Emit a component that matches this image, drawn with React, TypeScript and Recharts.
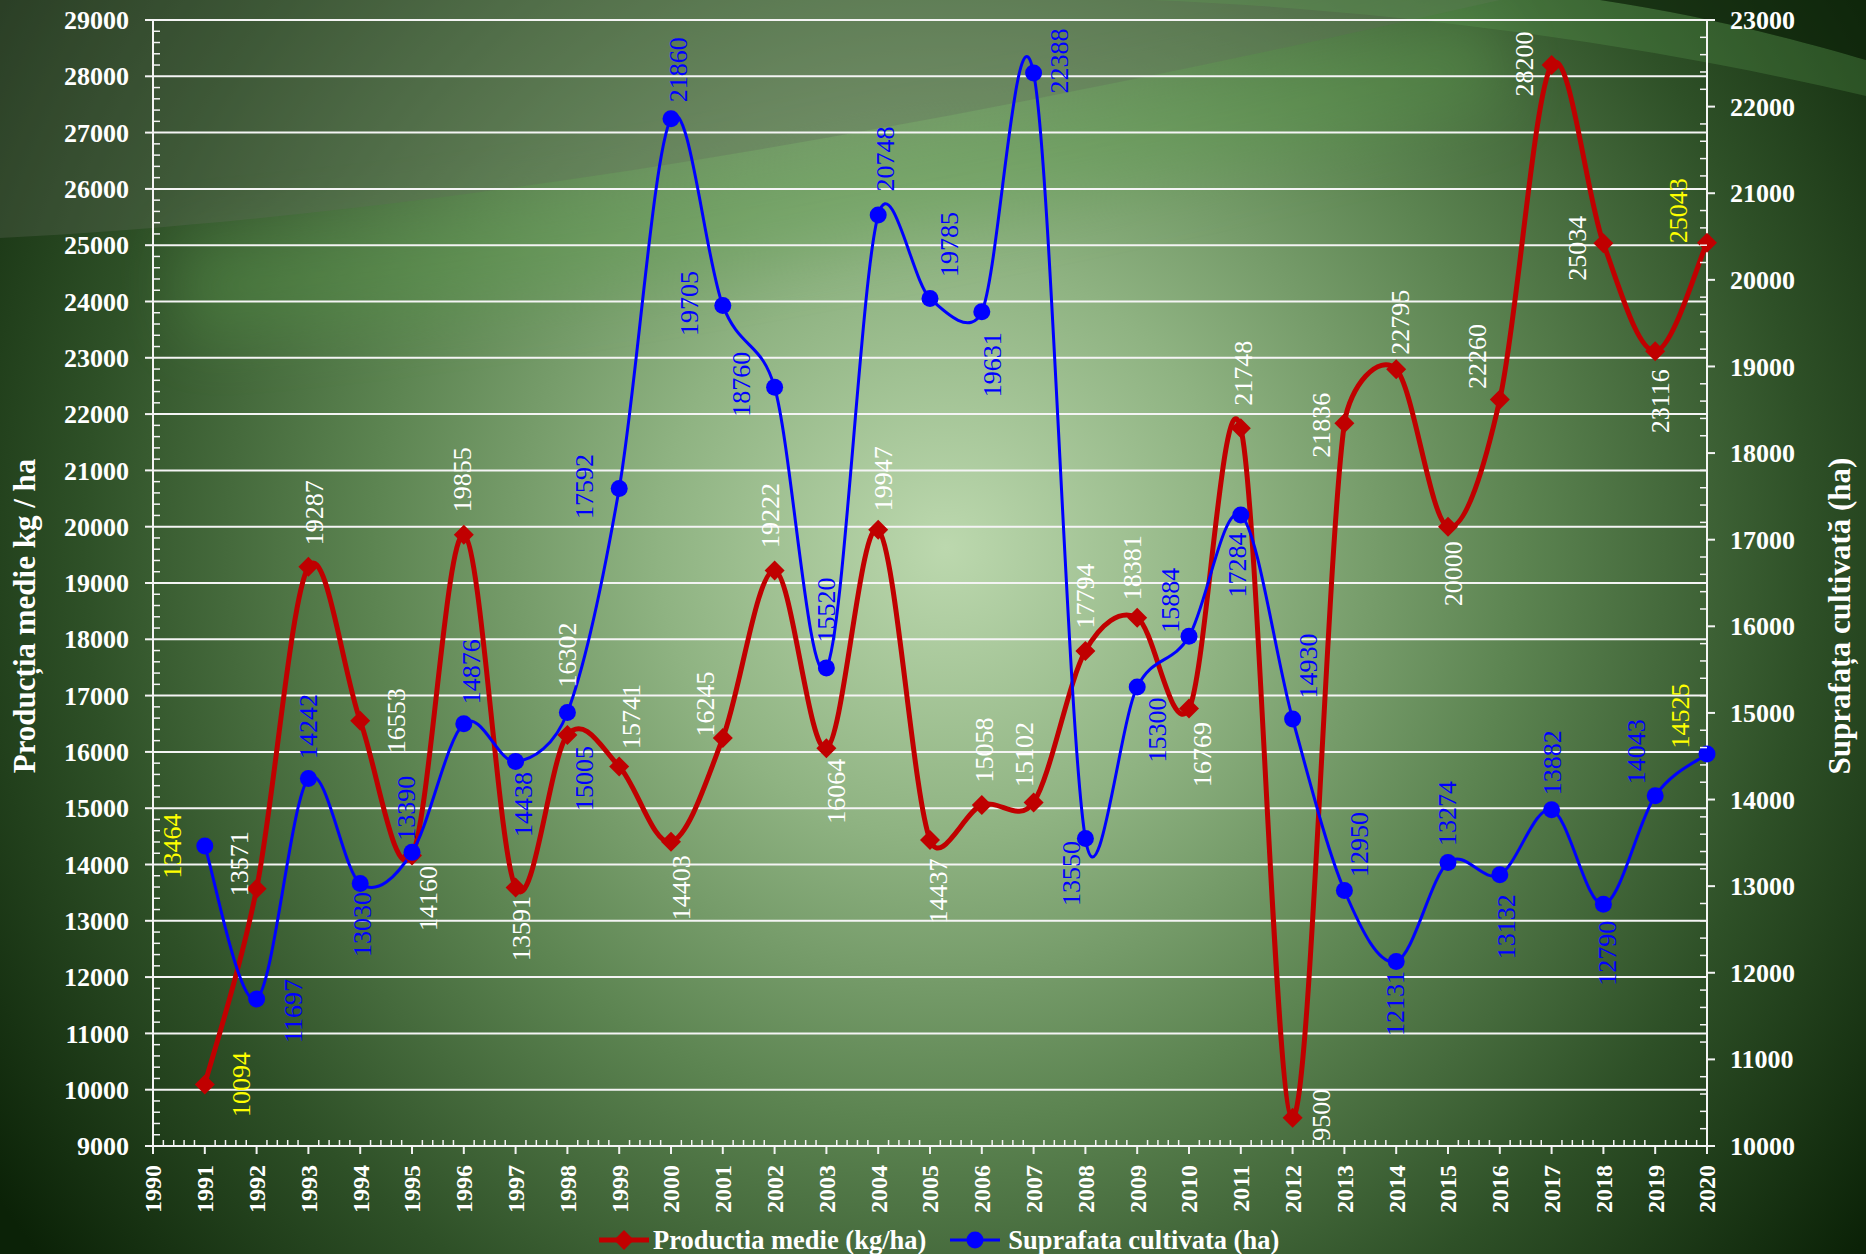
import React from 'react';
import { LineChart, Line, XAxis, YAxis, ReferenceLine, LabelList, Label } from 'recharts';

const years = [1991, 1992, 1993, 1994, 1995, 1996, 1997, 1998, 1999, 2000, 2001, 2002, 2003, 2004, 2005, 2006, 2007, 2008, 2009, 2010, 2011, 2012, 2013, 2014, 2015, 2016, 2017, 2018, 2019, 2020];
const production = [10094, 13571, 19287, 16553, 14160, 19855, 13591, 16302, 15741, 14403, 16245, 19222, 16064, 19947, 14437, 15058, 15102, 17794, 18381, 16769, 21748, 9500, 21836, 22795, 20000, 22260, 28200, 25034, 23116, 25043];
const area = [13464, 11697, 14242, 13030, 13390, 14876, 14438, 15005, 17592, 21860, 19705, 18760, 15520, 20748, 19785, 19631, 22388, 13550, 15300, 15884, 17284, 14930, 12950, 12131, 13274, 13132, 13882, 12790, 14043, 14525];

// tick values (majors every year / 1000, minors in between)
const yearTicks = Array.from({ length: 151 }, (_, i) => (9950 + i) / 5);
const leftTicks = Array.from({ length: 101 }, (_, i) => 9000 + i * 200);
const rightTicks = Array.from({ length: 66 }, (_, i) => 10000 + i * 200);
const gridValues = leftTicks.filter((v) => v % 1000 === 0);

// where each data label sits relative to its point [dx, dy]
const prodLabelShift = [
  [36, 0], [-18, -25], [6, -54], [36, 0], [16, 43], [-2, -55], [5, 41], [0, -80], [12, -50], [10, 46],
  [-18, -34], [-5, -55], [10, 43], [5, -51], [8, 51], [2, -55], [-10, -48], [0, -55], [-5, -50], [13, 46],
  [2, -55], [28, -3], [-23, 2], [4, -47], [5, 47], [-23, -43], [-28, -1], [-26, 5], [5, 50], [-29, -32],
];
const areaLabelShift = [
  [-33, 0], [36, 12], [0, -52], [2, 41], [-6, -44], [7, -52], [7, 43], [17, 66], [-35, -2], [7, -49],
  [-34, -2], [-34, -3], [0, -58], [7, -56], [19, -54], [10, 53], [25, -12], [-14, 35], [20, 43], [-19, -36],
  [-4, 50], [15, -53], [15, -46], [-1, 42], [-1, -49], [6, 52], [0, -47], [4, 49], [-19, -44], [-27, -38],
];

const data = years.map((year, i) => ({ year, prod: production[i], area: area[i] }));

const FONT = '"Liberation Serif", "Times New Roman", serif';
const LINE_W = '#f4f4f4';
const RED = '#c00000';
const BLUE = '#0000ff';
const YELLOW = '#ffff00';

// Excel-style smoothing: tangent (next - prev) / 6, control arm capped at half the segment
const excelCurve = (context: any) => {
  let pts: number[][] = [];
  const arm = (from: number[], a: number[], b: number[], seg: number, sign: number) => {
    const vx = b[0] - a[0];
    const vy = b[1] - a[1];
    const len = Math.hypot(vx, vy);
    if (!len) return from;
    const d = Math.min(len / 6, seg / 2);
    return [from[0] + (sign * vx * d) / len, from[1] + (sign * vy * d) / len];
  };
  return {
    areaStart() {},
    areaEnd() {},
    lineStart() {
      pts = [];
    },
    point(x: number, y: number) {
      pts.push([+x, +y]);
    },
    lineEnd() {
      if (!pts.length) return;
      context.moveTo(pts[0][0], pts[0][1]);
      for (let i = 0; i < pts.length - 1; i++) {
        const p0 = pts[i - 1] || pts[i];
        const p1 = pts[i];
        const p2 = pts[i + 1];
        const p3 = pts[i + 2] || p2;
        const seg = Math.hypot(p2[0] - p1[0], p2[1] - p1[1]);
        const c1 = arm(p1, p0, p2, seg, 1);
        const c2 = arm(p2, p1, p3, seg, -1);
        context.bezierCurveTo(c1[0], c1[1], c2[0], c2[1], p2[0], p2[1]);
      }
    },
  };
};

const XTick = (props: any) => {
  const { x, y, payload } = props;
  const v = payload.value;
  if (!Number.isInteger(v)) return <line x1={x} x2={x} y1={y} y2={y - 6} stroke={LINE_W} strokeWidth={1.5} />;
  const ty = y + 19;
  return (
    <g>
      <line x1={x} x2={x} y1={y} y2={y + 8} stroke={LINE_W} strokeWidth={2} />
      <text x={x} y={ty} dy="0.35em" textAnchor="end" transform={`rotate(-90 ${x} ${ty})`}
        fill="#fff" fontFamily={FONT} fontWeight={700} fontSize={24}>{v}</text>
    </g>
  );
};

const LeftTick = (props: any) => {
  const { x, y, payload } = props;
  const v = payload.value;
  if (v % 1000 !== 0) return <line x1={x} x2={x + 7} y1={y} y2={y} stroke={LINE_W} strokeWidth={1.5} />;
  return (
    <g>
      <line x1={x - 8} x2={x} y1={y} y2={y} stroke={LINE_W} strokeWidth={2} />
      <text x={x - 24} y={y} dy="0.35em" textAnchor="end" fill="#fff" fontFamily={FONT} fontWeight={700} fontSize={26}>{v}</text>
    </g>
  );
};

const RightTick = (props: any) => {
  const { x, y, payload } = props;
  const v = payload.value;
  if (v % 1000 !== 0) return <line x1={x - 7} x2={x} y1={y} y2={y} stroke={LINE_W} strokeWidth={1.5} />;
  return (
    <g>
      <line x1={x} x2={x + 8} y1={y} y2={y} stroke={LINE_W} strokeWidth={2} />
      <text x={x + 23} y={y} dy="0.35em" textAnchor="start" fill="#fff" fontFamily={FONT} fontWeight={700} fontSize={26}>{v}</text>
    </g>
  );
};

const makeLabel = (shifts: number[][], color: string) => (props: any) => {
  const vb = props.viewBox || {};
  const px = props.x ?? vb.x;
  const py = props.y ?? vb.y;
  const i = props.index ?? 0;
  const [dx, dy] = shifts[i] || [0, 0];
  const cx = px + dx;
  const cy = py + dy;
  const fill = i === 0 || i === years.length - 1 ? YELLOW : color;
  return (
    <text x={cx} y={cy} dy="0.35em" textAnchor="middle" transform={`rotate(-90 ${cx} ${cy})`}
      fill={fill} fontFamily={FONT} fontSize={26}>{props.value}</text>
  );
};

const diamond = (p: any) => (
  <polygon key={`dm-${p.index}`} fill={RED}
    points={`${p.cx},${p.cy - 10} ${p.cx + 10},${p.cy} ${p.cx},${p.cy + 10} ${p.cx - 10},${p.cy}`} />
);
const circle = (p: any) => <circle key={`ci-${p.index}`} cx={p.cx} cy={p.cy} r={8.5} fill={BLUE} />;

const axisTitle = (text: string, shift: number) => (p: any) => {
  const vb = p.viewBox;
  const cx = vb.x + shift;
  const cy = vb.y + vb.height / 2 + 33;
  return (
    <text x={cx} y={cy} dy="0.35em" textAnchor="middle" transform={`rotate(-90 ${cx} ${cy})`}
      fill="#fff" fontFamily={FONT} fontWeight={700} fontSize={31}>{text}</text>
  );
};

const LegendIcon = ({ color, shape }: { color: string; shape: 'diamond' | 'circle' }) => (
  <svg width={50} height={28}>
    <line x1={0} x2={50} y1={14} y2={14} stroke={color} strokeWidth={shape === 'diamond' ? 5 : 3} />
    {shape === 'diamond' ? <polygon points="25,4 35,14 25,24 15,14" fill={color} /> : <circle cx={25} cy={14} r={8.5} fill={color} />}
  </svg>
);

const App: React.FC = () => {
  return (
    <div style={{ position: 'absolute', left: 0, top: 0, width: 1866, height: 1254, overflow: 'hidden' }}>
      <svg width={1866} height={1254} style={{ position: 'absolute', left: 0, top: 0 }}>
        <defs>
          <radialGradient id="bg" gradientUnits="userSpaceOnUse" cx={946} cy={548} r={1150}>
            <stop offset="0" stopColor="#bcd8ae" />
            <stop offset="0.25" stopColor="#8fb382" />
            <stop offset="0.5" stopColor="#5c8451" />
            <stop offset="0.75" stopColor="#2e5027" />
            <stop offset="1" stopColor="#0b2207" />
          </radialGradient>
          <filter id="soft" x="-20%" y="-50%" width="140%" height="200%">
            <feGaussianBlur stdDeviation="30" />
          </filter>
        </defs>
        <rect width={1866} height={1254} fill="url(#bg)" />
        <path d="M180,290 C550,265 950,180 1500,60" stroke="#5fa150" strokeWidth={100} fill="none" opacity={0.3} filter="url(#soft)" />
        <path d="M0,0 L0,238 C450,215 950,125 1500,0 Z" fill="#5f6a5a" opacity={0.32} />
        <path d="M1150,0 C1400,10 1650,45 1866,96 L1866,60 C1800,40 1700,15 1600,0 Z" fill="#5fa352" opacity={0.28} />
        <path d="M1600,0 C1700,15 1800,40 1866,60 L1866,0 Z" fill="#0c2208" opacity={0.6} />
      </svg>

      <div style={{ position: 'absolute', left: 0, top: 0 }}>
        <LineChart width={1866} height={1254} data={data} margin={{ top: 20, right: 0, bottom: 0, left: 0 }}>
          {gridValues.map((v) => (
            <ReferenceLine key={`g-${v}`} yAxisId="left" y={v} stroke={LINE_W} strokeWidth={2} />
          ))}
          <XAxis dataKey="year" type="number" domain={[1990, 2020]} ticks={yearTicks} interval={0}
            height={108} tickSize={0} tickMargin={0} tickLine={false} tick={XTick}
            axisLine={{ stroke: LINE_W, strokeWidth: 2 }} />
          <YAxis yAxisId="left" domain={[9000, 29000]} ticks={leftTicks} interval={0} width={153}
            tickSize={0} tickMargin={0} tickLine={false} tick={LeftTick}
            axisLine={{ stroke: LINE_W, strokeWidth: 2 }}>
            <Label content={axisTitle('Producția medie kg / ha', 24)} />
          </YAxis>
          <YAxis yAxisId="right" orientation="right" domain={[10000, 23000]} ticks={rightTicks} interval={0} width={159}
            tickSize={0} tickMargin={0} tickLine={false} tick={RightTick}
            axisLine={{ stroke: LINE_W, strokeWidth: 2 }}>
            <Label content={axisTitle('Suprafața cultivată (ha)', 132)} />
          </YAxis>
          <Line yAxisId="left" dataKey="prod" name="Productia medie (kg/ha)" type={excelCurve as any}
            stroke={RED} strokeWidth={5} dot={diamond} activeDot={false} isAnimationActive={false}>
            <LabelList dataKey="prod" content={makeLabel(prodLabelShift, '#ffffff')} />
          </Line>
          <Line yAxisId="right" dataKey="area" name="Suprafata cultivata (ha)" type={excelCurve as any}
            stroke={BLUE} strokeWidth={3} dot={circle} activeDot={false} isAnimationActive={false}>
            <LabelList dataKey="area" content={makeLabel(areaLabelShift, BLUE)} />
          </Line>
        </LineChart>
      </div>

      <div style={{ position: 'absolute', left: 599, top: 1226, height: 28, display: 'flex', alignItems: 'center',
        fontFamily: FONT, fontWeight: 700, fontSize: 26.5, color: '#fff', whiteSpace: 'nowrap' }}>
        <LegendIcon color={RED} shape="diamond" />
        <span style={{ marginLeft: 4, marginRight: 24 }}>Productia medie (kg/ha)</span>
        <LegendIcon color={BLUE} shape="circle" />
        <span style={{ marginLeft: 8 }}>Suprafata cultivata (ha)</span>
      </div>
    </div>
  );
};

export default App;
